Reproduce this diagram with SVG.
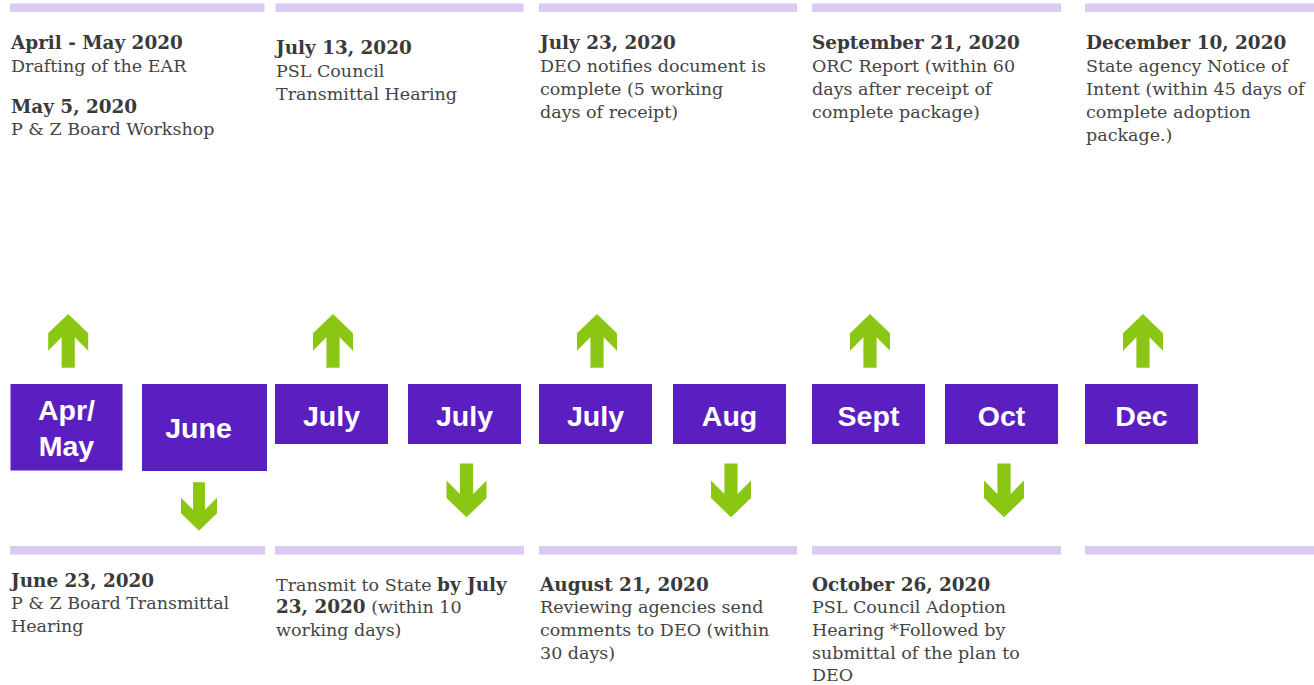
<svg xmlns="http://www.w3.org/2000/svg" xmlns:xlink="http://www.w3.org/1999/xlink" width="1314" height="685" viewBox="0 0 1314 685">
<style>
.bar{fill:#dbcaf2}
.box{fill:#5b1fc1}
.lbl{font-family:"Liberation Sans",Arial,sans-serif;font-weight:bold;font-size:28.5px;fill:#ffffff;text-anchor:middle}
.t{font-family:"DejaVu Serif",Georgia,serif;font-size:17.5px;fill:#444444}
.b{font-weight:bold;fill:#3a3a3a;font-size:18.4px}
.arr{fill:#8cc614}
</style>
<defs>
<path id="up" d="M0,0 L20,19.3 L20,36.7 L6.6,23.3 L6.6,53.7 L-6.6,53.7 L-6.6,23.3 L-20,36.7 L-20,19.3 Z"/>
</defs>
<rect width="1314" height="685" fill="#ffffff"/>
<g id="bars">
<rect class="bar" x="10" y="3.5" width="254.5" height="8.5"/>
<rect class="bar" x="275.5" y="3.5" width="248" height="8.5"/>
<rect class="bar" x="539" y="3.5" width="258" height="8.5"/>
<rect class="bar" x="812" y="3.5" width="249" height="8.5"/>
<rect class="bar" x="1085" y="3.5" width="229" height="8.5"/>
<rect class="bar" x="10" y="546" width="255" height="8.5"/>
<rect class="bar" x="275" y="546" width="249" height="8.5"/>
<rect class="bar" x="539" y="546" width="258" height="8.5"/>
<rect class="bar" x="812" y="546" width="249" height="8.5"/>
<rect class="bar" x="1085" y="546" width="229" height="8.5"/>
</g>
<g id="connectors">
<use xlink:href="#up" class="arr" transform="translate(68.2,314)"/>
<use xlink:href="#up" class="arr" transform="translate(333,314)"/>
<use xlink:href="#up" class="arr" transform="translate(597,314)"/>
<use xlink:href="#up" class="arr" transform="translate(870,314)"/>
<use xlink:href="#up" class="arr" transform="translate(1143,314)"/>
<use xlink:href="#up" class="arr" transform="translate(199,530.7) scale(0.9,-0.9)"/>
<use xlink:href="#up" class="arr" transform="translate(466.5,517.3) scale(1,-1)"/>
<use xlink:href="#up" class="arr" transform="translate(731,517.3) scale(1,-1)"/>
<use xlink:href="#up" class="arr" transform="translate(1004,517.3) scale(1,-1)"/>
</g>
<g id="box-aprmay"><rect class="box" x="10.5" y="384" width="112" height="86.5"/><text class="lbl" x="66.5" y="420">Apr/</text><text class="lbl" x="66.5" y="456">May</text></g>
<g id="box-june"><rect class="box" x="142" y="384" width="125" height="87"/><text class="lbl" x="198.5" y="437.5">June</text></g>
<g id="box-july1"><rect class="box" x="275" y="384" width="113" height="60"/><text class="lbl" x="331.5" y="426">July</text></g>
<g id="box-july2"><rect class="box" x="408" y="384" width="113" height="60"/><text class="lbl" x="464.5" y="426">July</text></g>
<g id="box-july3"><rect class="box" x="539" y="384" width="113" height="60"/><text class="lbl" x="595.5" y="426">July</text></g>
<g id="box-aug"><rect class="box" x="673" y="384" width="113" height="60"/><text class="lbl" x="729.5" y="426">Aug</text></g>
<g id="box-sept"><rect class="box" x="812" y="384" width="113" height="60"/><text class="lbl" x="868.5" y="426">Sept</text></g>
<g id="box-oct"><rect class="box" x="945" y="384" width="113" height="60"/><text class="lbl" x="1001.5" y="426">Oct</text></g>
<g id="box-dec"><rect class="box" x="1085" y="384" width="113" height="60"/><text class="lbl" x="1141.5" y="426">Dec</text></g>
<g id="note-aprmay">
<text class="t b" x="11" y="49.3">April - May 2020</text>
<text class="t" x="11" y="71.7">Drafting of the EAR</text>
<text class="t b" x="11" y="112.7">May 5, 2020</text>
<text class="t" x="11" y="135">P &amp; Z Board Workshop</text>
</g>
<g id="note-july13">
<text class="t b" x="276" y="54.3">July 13, 2020</text>
<text class="t" x="276" y="76.7">PSL Council</text>
<text class="t" x="276" y="100">Transmittal Hearing</text>
</g>
<g id="note-july23">
<text class="t b" x="540" y="49.3">July 23, 2020</text>
<text class="t" x="540" y="71.7">DEO notifies document is</text>
<text class="t" x="540" y="94.7">complete (5 working</text>
<text class="t" x="540" y="117.7">days of receipt)</text>
</g>
<g id="note-sept21">
<text class="t b" x="812" y="49.3">September 21, 2020</text>
<text class="t" x="812" y="71.7">ORC Report (within 60</text>
<text class="t" x="812" y="94.7">days after receipt of</text>
<text class="t" x="812" y="117.7">complete package)</text>
</g>
<g id="note-dec10">
<text class="t b" x="1086" y="49.3">December 10, 2020</text>
<text class="t" x="1086" y="71.7">State agency Notice of</text>
<text class="t" x="1086" y="94.7">Intent (within 45 days of</text>
<text class="t" x="1086" y="117.7">complete adoption</text>
<text class="t" x="1086" y="140.7">package.)</text>
</g>
<g id="note-june23">
<text class="t b" x="11" y="586.7">June 23, 2020</text>
<text class="t" x="11" y="609.3">P &amp; Z Board Transmittal</text>
<text class="t" x="11" y="632">Hearing</text>
</g>
<g id="note-transmit">
<text class="t" x="276" y="590.5">Transmit to State <tspan class="b">by July</tspan></text>
<text class="t" x="276" y="613.3"><tspan class="b">23, 2020</tspan> (within 10</text>
<text class="t" x="276" y="636">working days)</text>
</g>
<g id="note-aug21">
<text class="t b" x="540" y="590.5">August 21, 2020</text>
<text class="t" x="540" y="613.3">Reviewing agencies send</text>
<text class="t" x="540" y="636">comments to DEO (within</text>
<text class="t" x="540" y="658.7">30 days)</text>
</g>
<g id="note-oct26">
<text class="t b" x="812" y="590.5">October 26, 2020</text>
<text class="t" x="812" y="613.3">PSL Council Adoption</text>
<text class="t" x="812" y="636">Hearing *Followed by</text>
<text class="t" x="812" y="658.7">submittal of the plan to</text>
<text class="t" x="812" y="681.3">DEO</text>
</g>
</svg>
